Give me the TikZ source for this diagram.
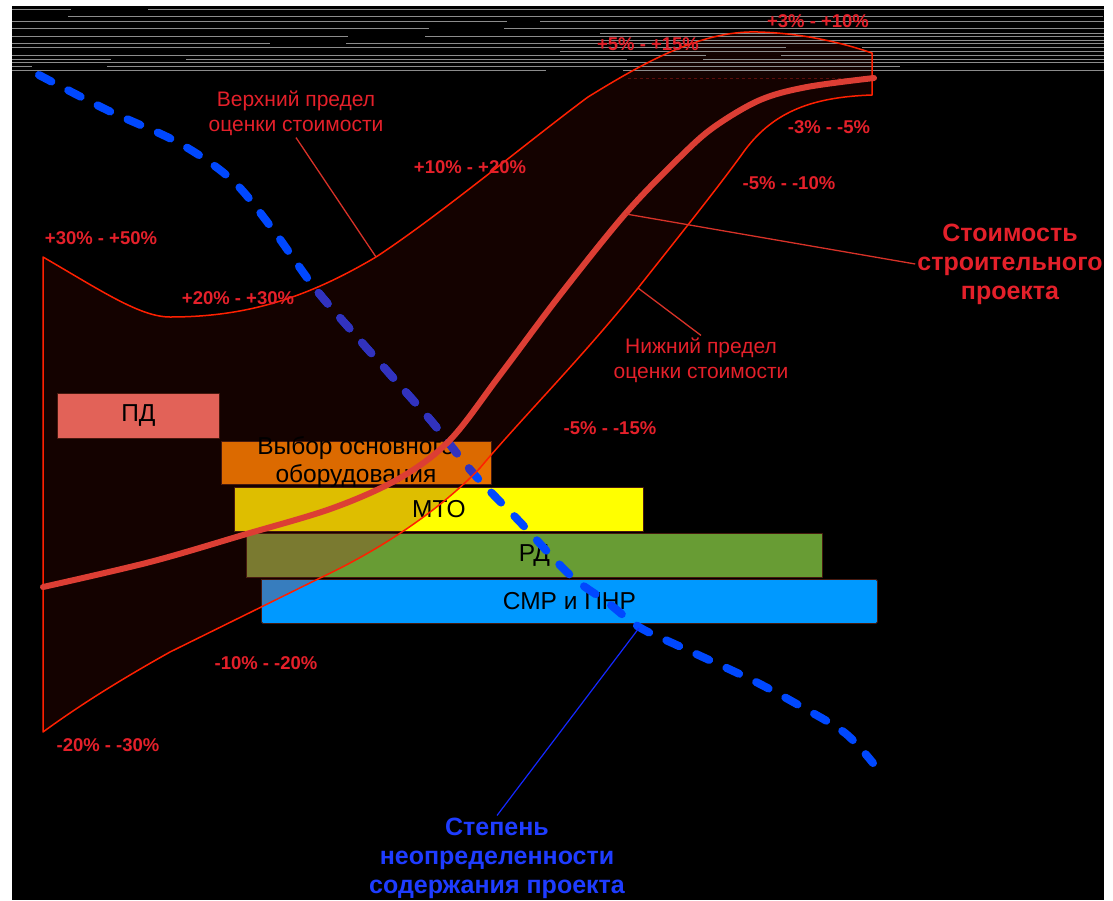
\documentclass[tikz,border=0pt]{standalone}
\usepackage{fontspec}
\setmainfont{Liberation Sans}
\definecolor{pdcol}{RGB}{226,98,88}
\definecolor{eqcol}{RGB}{232,114,0}
\definecolor{eqdark}{RGB}{220,106,0}
\definecolor{mtocol}{RGB}{255,255,0}
\definecolor{mtodark}{RGB}{222,190,0}
\definecolor{rdcol}{RGB}{104,156,52}
\definecolor{rddark}{RGB}{122,122,48}
\definecolor{smrcol}{RGB}{0,153,255}
\definecolor{smrdark}{RGB}{55,125,190}
\definecolor{bluecol}{RGB}{0,72,255}
\definecolor{bluedark}{RGB}{50,50,190}
\definecolor{costred}{RGB}{220,62,52}
\definecolor{bandred}{RGB}{255,32,0}
\definecolor{lblred}{RGB}{228,32,42}
\definecolor{leadred}{RGB}{215,50,40}
\definecolor{banddark}{RGB}{20,2,0}
\definecolor{bluelbl}{RGB}{30,60,255}
\definecolor{leadblue}{RGB}{20,40,255}
\definecolor{grayline}{RGB}{140,140,140}
\definecolor{boxedge}{RGB}{70,25,15}
\definecolor{faintred}{RGB}{90,12,10}
\newcommand{\bandoutline}{(43,257) .. controls (100,290) and (140,317) .. (170,317)
  .. controls (250,317) and (310,296) .. (376,257)
  .. controls (440,215) and (530,140) .. (588,97)
  .. controls (640,65) and (700,30) .. (758,32)
  .. controls (800,33) and (840,42) .. (872,53)
  -- (872,95)
  .. controls (815,97) and (775,110) .. (745,150)
  .. controls (720,185) and (680,235) .. (638,288)
  .. controls (580,360) and (520,420) .. (480,468)
  .. controls (440,510) and (380,550) .. (320,578)
  -- (170,652)
  .. controls (120,680) and (80,705) .. (43,732) -- cycle}
\begin{document}
\begin{tikzpicture}[x=1pt,y=-1pt,line join=round,
  boxstyle/.style={draw=boxedge,line width=0.8pt,inner sep=0pt,anchor=north west},
  pct/.style={text=lblred,font=\fontsize{18.5}{21}\selectfont\bfseries,inner sep=0pt},
  note/.style={text=lblred,font=\fontsize{21}{25}\selectfont,align=center,inner sep=2pt},
  bignote/.style={font=\fontsize{25}{29}\selectfont\bfseries,align=center,inner sep=2pt},
  boxlbl/.style={text=black,font=\fontsize{24.5}{28}\selectfont,align=center,inner sep=0pt},
  leader/.style={draw=leadred,line width=1.3pt},
  blueline/.style={draw=bluecol,line width=8pt,line cap=round,dash pattern=on 14pt off 19pt},
]
\useasboundingbox (0,0) rectangle (1113,900);
\fill[white] (0,0) rectangle (1113,900);
\fill[black] (12,6) rectangle (1104,900);
% band fill
\fill[banddark] \bandoutline;
% top grey streaks
\foreach \yy/\xa/\xb in {9/12/71, 9/148/1104, 16/68/1103, 21/12/507, 21/540/1104,
  28/12/429, 28/504/1104, 33/600/1104, 36/12/348, 36/425/1104, 40/560/1104,
  43/12/270, 43/346/1104, 47/12/786, 47/862/1104, 51/560/1104, 55/12/706, 55/781/1104,
  59/12/111, 59/186/627, 59/703/1104, 62/12/1104, 66/12/32, 66/107/900, 70/12/546, 70/623/1104}
  \draw[grayline,line width=1pt] (\xa,\yy) -- (\xb,\yy);
\draw[faintred,line width=1pt,dashed] (628,78) -- (870,78);
% boxes
\node[boxstyle,fill=pdcol,minimum width=162pt,minimum height=45pt] (pd) at (57,393) {};
\node[boxstyle,fill=eqcol,minimum width=270pt,minimum height=43pt] (eq) at (221,441) {};
\node[boxstyle,fill=mtocol,minimum width=409pt,minimum height=44pt] (mto) at (234,487) {};
\node[boxstyle,fill=rdcol,minimum width=576pt,minimum height=44pt] (rd) at (246,533) {};
\node[boxstyle,fill=smrcol,minimum width=616pt,minimum height=44pt,rounded corners=1.5pt] (smr) at (261,579) {};
\begin{scope}
  \clip \bandoutline;
  \filldraw[fill=eqdark,draw=boxedge,line width=0.8pt] (eq.north west) rectangle (eq.south east);
  \filldraw[fill=mtodark,draw=boxedge,line width=0.8pt] (mto.north west) rectangle (mto.south east);
  \filldraw[fill=rddark,draw=boxedge,line width=0.8pt] (rd.north west) rectangle (rd.south east);
  \filldraw[fill=smrdark,draw=boxedge,line width=0.8pt] (smr.north west) rectangle (smr.south east);
\end{scope}
\node[boxlbl] (pdlbl) at (pd.center) {ПД};
\node[boxlbl] (eqlbl) at (356,462) {Выбор основного\\оборудования};
\node[boxlbl] (mtolbl) at (mto.center) {МТО};
\node[boxlbl] (rdlbl) at (rd.center) {РД};
\node[boxlbl] (smrlbl) at (smr.center) {СМР и ПНР};
% blue dashed uncertainty line
\draw[blueline] plot[smooth,tension=0.55] coordinates {(39,75) (107,110) (179,143) (232,180) (271,227) (314,287) (357,337) (404,390) (433,423) (473,473) (520,522) (570,575) (607,602) (639,627) (681,647) (752,680) (802,707) (845,733) (873,763)};
\begin{scope}
  \clip \bandoutline;
  \draw[blueline,draw=bluedark] plot[smooth,tension=0.55] coordinates {(39,75) (107,110) (179,143) (232,180) (271,227) (314,287) (357,337) (404,390) (433,423) (473,473) (520,522) (570,575) (607,602) (639,627) (681,647) (752,680) (802,707) (845,733) (873,763)};
\end{scope}
% band outline
\draw[bandred,line width=1.5pt] \bandoutline;
% cost curve
\draw[costred,line width=6pt,line cap=round] plot[smooth,tension=0.55] coordinates {(43,587) (150,562) (243,535) (333,508) (400,478) (450,440) (500,375) (560,295) (626,213) (680,157) (714,127) (760,100) (807,87) (874,78)};
% touch points
\coordinate (uptouch) at (376,257);
\coordinate (lowtouch) at (638,288);
\coordinate (costtouch) at (626,214);
\coordinate (bluetouch) at (639,628);
% notes with leaders
\node[note] (upnote) at (296,113) {Верхний предел\\оценки стоимости};
\node[note] (lownote) at (701,360) {Нижний предел\\оценки стоимости};
\node[bignote,text=lblred] (costnote) at (1010,264) {Стоимость\\строительного\\проекта};
\node[bignote,text=bluelbl] (bluenote) at (497,858) {Степень\\неопределенности\\содержания проекта};
\draw[leader] (upnote.south) -- (uptouch);
\draw[leader] (lownote.north) -- (lowtouch);
\draw[leader] (costnote.west) -- (costtouch);
\draw[draw=leadblue,line width=1.2pt] (bluenote.north) -- (bluetouch);
% percentage labels
\node[pct] (p1) at (818,21) {+3\% - +10\%};
\node[pct] (p2) at (648,44) {+5\% - +15\%};
\node[pct] (p3) at (470,167) {+10\% - +20\%};
\node[pct] (p4) at (829,127) {-3\% - -5\%};
\node[pct] (p5) at (789,183) {-5\% - -10\%};
\node[pct] (p6) at (101,238) {+30\% - +50\%};
\node[pct] (p7) at (238,298) {+20\% - +30\%};
\node[pct] (p8) at (610,428) {-5\% - -15\%};
\node[pct] (p9) at (266,663) {-10\% - -20\%};
\node[pct] (p10) at (108,745) {-20\% - -30\%};
\end{tikzpicture}
\end{document}
